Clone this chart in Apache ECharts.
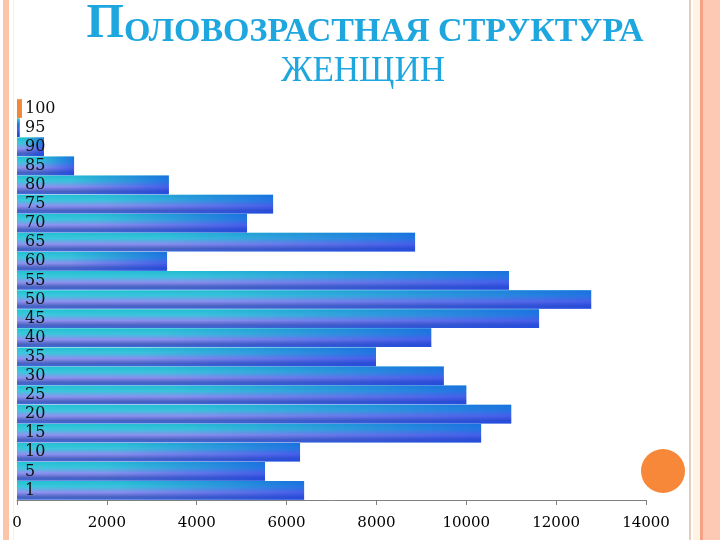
<!DOCTYPE html>
<html>
<head>
<meta charset="utf-8">
<script src="https://cdn.jsdelivr.net/npm/echarts@6/dist/echarts.min.js"></script>
<style>
  html, body { margin: 0; padding: 0; background: #fff; }
  #chart { width: 720px; height: 540px; }
</style>
</head>
<body>
<div id="chart"></div>
<script>
// возрастные группы (снизу вверх)
const ages = ['1', '5', '10', '15', '20', '25', '30', '35', '40', '45', '50',
  '55', '60', '65', '70', '75', '80', '85', '90', '95', '100']
// численность женщин
const women = [6390, 5520, 6300, 10330, 11000, 10000, 9500, 7990, 9220, 11620, 12780,
  10950, 3340, 8860, 5120, 5700, 3380, 1270, 600, 60, 110]
const xTicks = [0, 14000, 2000] // min, max, шаг

const chart = echarts.init(document.getElementById('chart'))

const serif = '"Liberation Serif", "DejaVu Serif", serif'
const labelFont = '"DejaVu Serif", serif'

// основной градиент полосы
const baseFill = new echarts.graphic.LinearGradient(0, 0, 0, 1, [
  { offset: 0, color: '#22c2d3' },
  { offset: 0.3, color: '#3cc8dc' },
  { offset: 0.6, color: '#8f92ef' },
  { offset: 0.85, color: '#4a62c0' },
  { offset: 1, color: '#3a6ad8' }
])
// затемнение к правому краю
const shade = new echarts.graphic.LinearGradient(0, 0, 1, 0.25, [
  { offset: 0, color: 'rgba(30,70,220,0)' },
  { offset: 0.35, color: 'rgba(30,70,220,0.05)' },
  { offset: 1, color: 'rgba(20,60,230,0.6)' }
])

const baseData = women.map((v, i) => ages[i] === '100'
  ? { value: v, itemStyle: { color: '#f0873a' } }
  : v)
const shadeData = women.map((v, i) => ages[i] === '100'
  ? { value: v, itemStyle: { color: 'rgba(0,0,0,0)' } }
  : v)

const option = {
  backgroundColor: '#fff',
  animation: false,
  title: [
    {
      text: '{a|П}{b|ОЛОВОЗРАСТНАЯ СТРУКТУРА}',
      left: 360,
      textAlign: 'center',
      top: -4,
      textStyle: {
        rich: {
          a: { fontFamily: serif, fontSize: 48, color: '#1ea6df' },
          b: { fontFamily: serif, fontSize: 34, color: '#1ea6df', verticalAlign: 'bottom' }
        }
      }
    },
    {
      text: 'ЖЕНЩИН',
      left: 358,
      textAlign: 'center',
      top: 49,
      textStyle: { fontFamily: serif, fontSize: 35, fontWeight: 'normal', color: '#1ea6df' }
    }
  ],
  grid: { left: 17, right: 74, top: 99, bottom: 40 },
  xAxis: {
    type: 'value',
    min: xTicks[0],
    max: xTicks[1],
    interval: xTicks[2],
    splitLine: { show: false },
    axisLine: { show: true, lineStyle: { color: '#808080' } },
    axisTick: { show: true, length: 5, lineStyle: { color: '#808080' } },
    axisLabel: {
      fontFamily: labelFont, fontSize: 15, color: '#000', margin: 16,
      formatter: v => String(v)
    }
  },
  yAxis: {
    type: 'category',
    data: ages,
    axisLine: { show: false },
    axisTick: { show: false },
    z: 10,
    axisLabel: {
      inside: true,
      interval: 0,
      margin: 8,
      fontFamily: labelFont,
      fontSize: 16,
      color: '#111'
    }
  },
  series: [
    {
      type: 'bar',
      data: baseData,
      barCategoryGap: '2%',
      itemStyle: { color: baseFill }
    },
    {
      type: 'bar',
      data: shadeData,
      barGap: '-100%',
      barCategoryGap: '2%',
      itemStyle: { color: shade }
    }
  ],
  graphic: [
    // левая рамка
    { type: 'rect', shape: { x: 3, y: 0, width: 6, height: 540 }, style: { fill: '#fcc4a9' }, silent: true },
    { type: 'rect', shape: { x: 13, y: 0, width: 1, height: 540 }, style: { fill: '#fbeee0' }, silent: true },
    // правая рамка
    { type: 'rect', shape: { x: 689, y: 0, width: 2, height: 540 }, style: { fill: '#e8cdbd' }, silent: true },
    { type: 'rect', shape: { x: 693, y: 0, width: 7, height: 540 }, style: { fill: '#fff3e4' }, silent: true },
    { type: 'rect', shape: { x: 700, y: 0, width: 3, height: 540 }, style: { fill: '#f4a184' }, silent: true },
    { type: 'rect', shape: { x: 703, y: 0, width: 17, height: 540 }, style: { fill: '#fdc9b5' }, silent: true },
    // оранжевый круг
    { type: 'circle', shape: { cx: 663, cy: 471, r: 22 }, style: { fill: '#f7883a' }, silent: true }
  ]
}

chart.setOption(option)
</script>
</body>
</html>
